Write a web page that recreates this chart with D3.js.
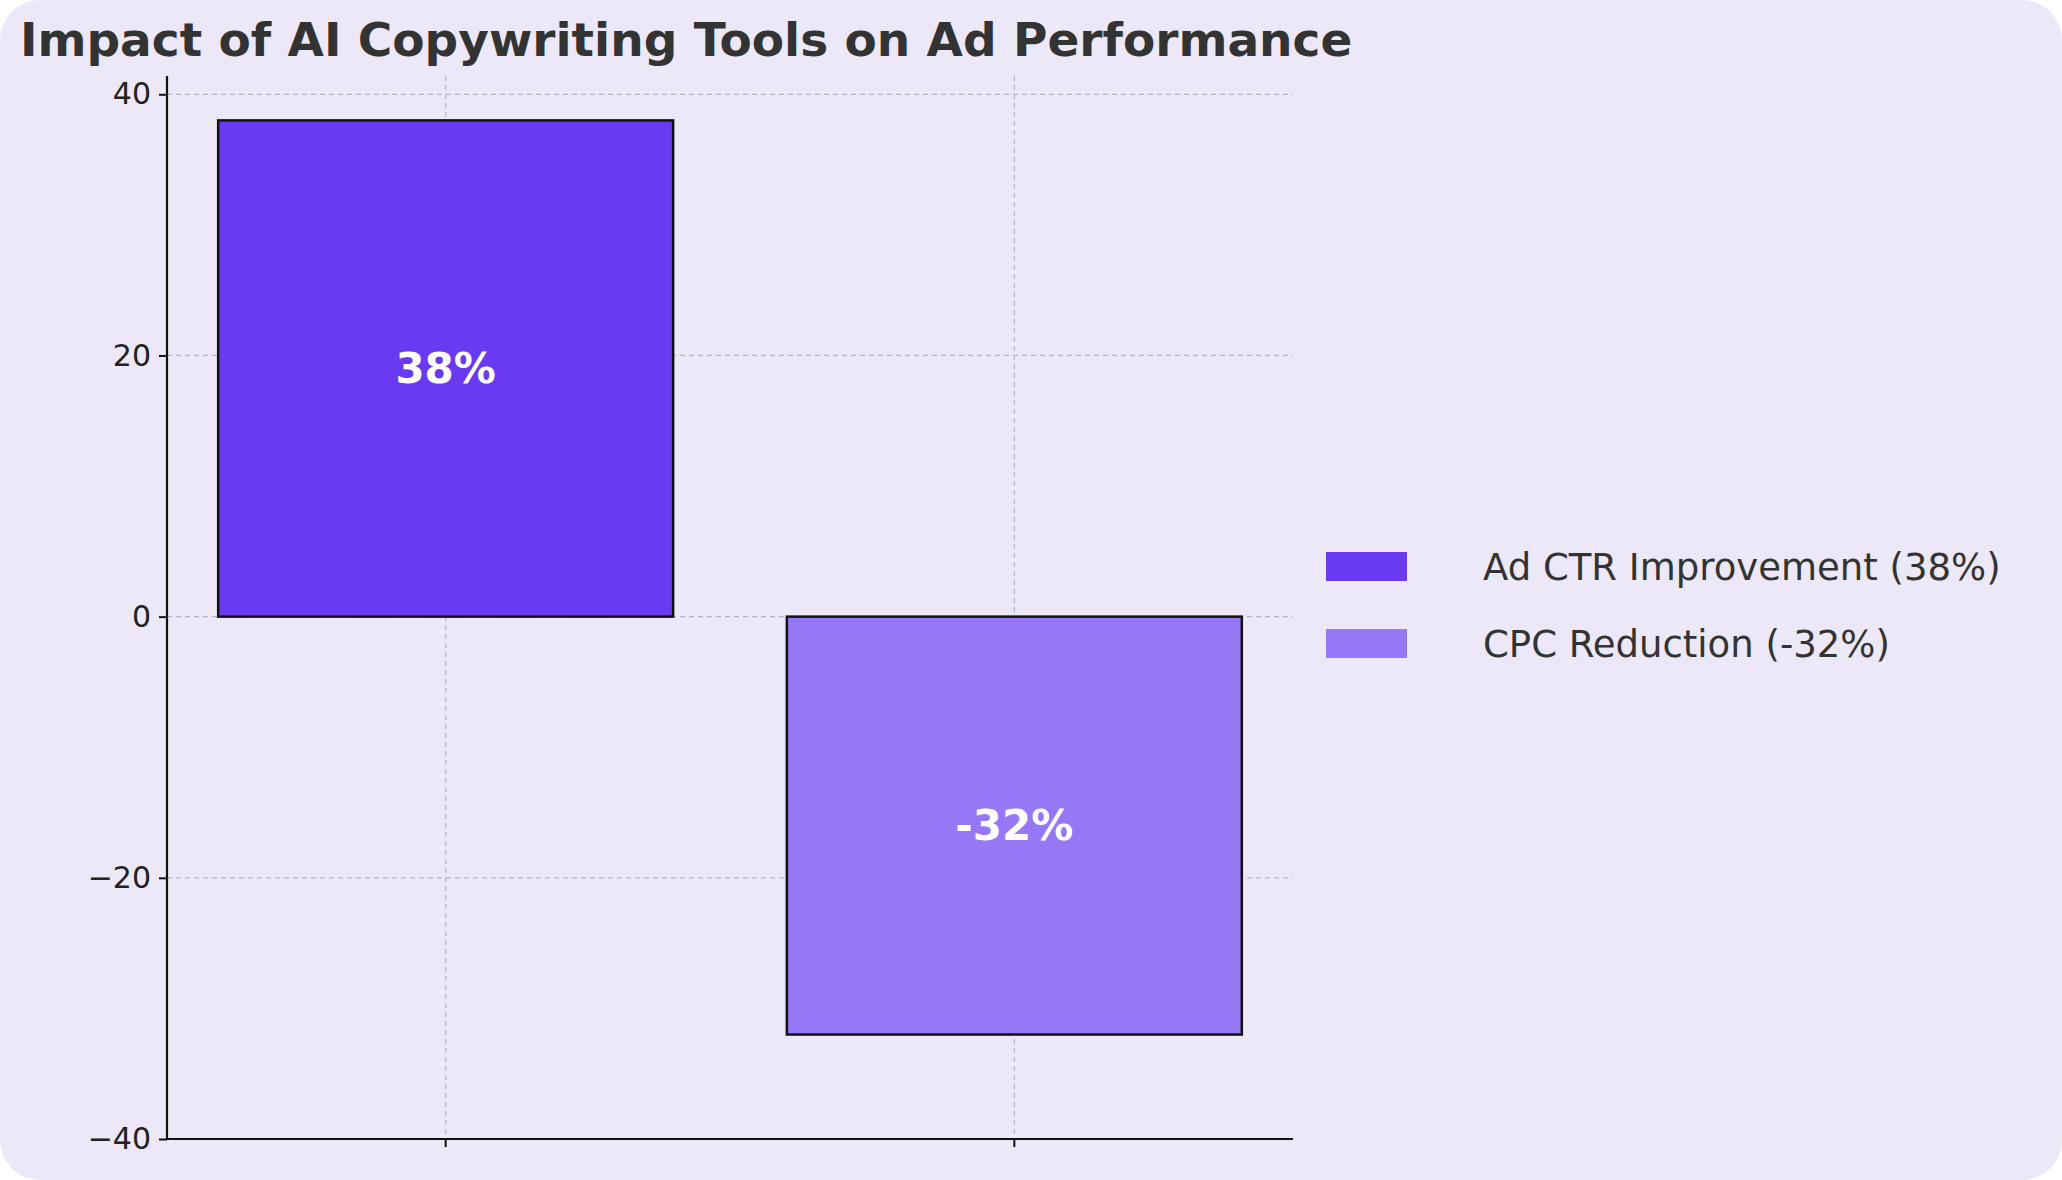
<!DOCTYPE html><html><head><meta charset="utf-8">
<script src="https://cdn.jsdelivr.net/npm/d3@7"></script>
<style>body{margin:0;background:#fff}svg{display:block}text{font-family:"DejaVu Sans",sans-serif}</style></head><body>
<svg id="c" width="2062" height="1180"></svg>
<script>
const categories=["Ad CTR Improvement (38%)","CPC Reduction (-32%)"];
const values=[38,-32];
const labels=["38%","-32%"];
const colors=["#6A3AF2","#9677F6"];
const yTicks=[-40,-20,0,20,40];
const svg=d3.select("#c");
svg.append("rect").attr("width",2062).attr("height",1180).attr("rx",40).attr("fill","#ECE8F7");
const L=167,R=1293,T=76,B=1139;
const x=d3.scaleBand().domain(categories).range([L,R]).paddingInner(0.2).paddingOuter(0.09);
const y=d3.scaleLinear().domain([-40,41.4]).range([B,T]);
const g=svg.append("g");
// grid
g.selectAll(".hg").data(yTicks).enter().append("line").attr("x1",L).attr("x2",R).attr("y1",d=>y(d)).attr("y2",d=>y(d)).attr("stroke","#b8b4c8").attr("stroke-dasharray","5,4").attr("stroke-width",1.2);
g.selectAll(".vg").data(categories).enter().append("line").attr("x1",d=>x(d)+x.bandwidth()/2).attr("x2",d=>x(d)+x.bandwidth()/2).attr("y1",T).attr("y2",B).attr("stroke","#b8b4c8").attr("stroke-dasharray","5,4").attr("stroke-width",1.2);
// bars
g.selectAll(".b").data(values).enter().append("rect").attr("x",(d,i)=>x(categories[i])).attr("width",x.bandwidth())
 .attr("y",d=>y(Math.max(0,d))).attr("height",d=>Math.abs(y(d)-y(0))).attr("fill",(d,i)=>colors[i]).attr("stroke","#111").attr("stroke-width",2.5);
g.selectAll(".vl").data(values).enter().append("text").attr("x",(d,i)=>x(categories[i])+x.bandwidth()/2).attr("y",d=>y(d/2)).attr("dy","0.35em")
 .attr("text-anchor","middle").attr("fill","#fff").attr("font-weight","bold").attr("font-size",42).text((d,i)=>labels[i]);
// axes
const ya=svg.append("g").attr("transform",`translate(${L},0)`).call(d3.axisLeft(y).tickValues(yTicks).tickSize(8).tickPadding(8));
const xa=svg.append("g").attr("transform",`translate(0,${B})`).call(d3.axisBottom(x).tickSize(8).tickFormat(""));
[ya,xa].forEach(a=>{a.select(".domain").attr("stroke","#111").attr("stroke-width",2.2);a.selectAll(".tick line").attr("stroke","#111").attr("stroke-width",2);a.selectAll("text").attr("font-size",30).attr("fill","#222").attr("font-family","DejaVu Sans");});
xa.select(".domain").attr("d",`M${L},0H${R}`);
ya.select(".domain").attr("d",`M0,${T}V${B}`);
// title
svg.append("text").attr("x",20).attr("y",56).attr("font-size",47).attr("font-weight","bold").attr("fill","#333").text("Impact of AI Copywriting Tools on Ad Performance");
// legend
const lg=svg.append("g").selectAll("g").data(categories).enter().append("g").attr("transform",(d,i)=>`translate(1326,${552+i*77})`);
lg.append("rect").attr("width",81).attr("height",29).attr("fill",(d,i)=>colors[i]);
lg.append("text").attr("x",157).attr("y",15).attr("dy","0.35em").attr("font-size",37).attr("fill","#333").text(d=>d);
</script></body></html>
